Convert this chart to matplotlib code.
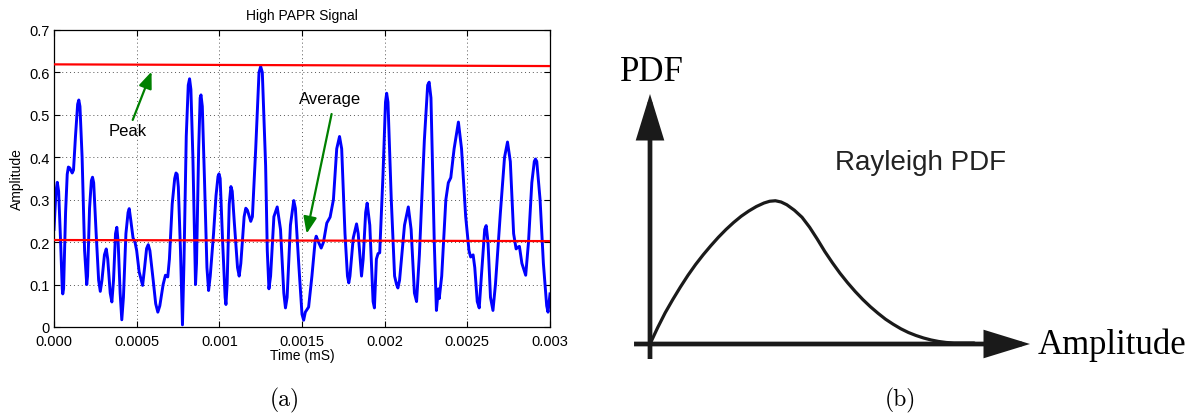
import matplotlib.pyplot as plt
from matplotlib.patches import FancyArrowPatch

# ── (a) time-domain OFDM envelope ─────────────────────────────────────────────
t_ms = [
    0.0, 0.000012, 0.00002, 0.000028, 0.00004, 0.00005, 0.000053, 0.000058,
    0.00007, 0.00008, 0.000087, 0.000095, 0.00011, 0.000118, 0.00013, 0.000143,
    0.00015, 0.000157, 0.00017, 0.000185, 0.000198, 0.000203, 0.000215, 0.000226,
    0.000233, 0.00024, 0.000255, 0.00027, 0.00028, 0.00029, 0.000305, 0.000316,
    0.000325, 0.00034, 0.00035, 0.00036, 0.000372, 0.00038, 0.000388, 0.0004,
    0.00041, 0.00042, 0.000435, 0.000448, 0.000455, 0.000465, 0.000478, 0.00049,
    0.0005, 0.000515, 0.000536, 0.000548, 0.00056, 0.00057, 0.00058, 0.0006,
    0.000615, 0.000628, 0.00064, 0.00066, 0.000674, 0.000682, 0.000688, 0.000698,
    0.000715, 0.00073, 0.000738, 0.000745, 0.000752, 0.000765, 0.000777, 0.000786,
    0.0008, 0.000812, 0.00082, 0.000828, 0.00084, 0.000856, 0.000862, 0.000875,
    0.000884, 0.000889, 0.000897, 0.00091, 0.000925, 0.000935, 0.000945, 0.000965,
    0.00098, 0.000992, 0.000998, 0.001005, 0.00102, 0.001035, 0.00104, 0.001047,
    0.00106, 0.00107, 0.001078, 0.00109, 0.00111, 0.00112, 0.00113, 0.00115,
    0.00116, 0.00117, 0.00119, 0.0012, 0.00122, 0.00124, 0.00125, 0.00126,
    0.00128, 0.00129, 0.0013, 0.00131, 0.00133, 0.00135, 0.00137, 0.00139,
    0.0014, 0.00141, 0.00143, 0.00145, 0.00146, 0.00148, 0.0015, 0.00151,
    0.00152, 0.00154, 0.00156, 0.00158, 0.001586, 0.0016, 0.001616, 0.00163,
    0.00165, 0.00167, 0.00169, 0.00171, 0.001727, 0.00174, 0.00176, 0.001775,
    0.001783, 0.00179, 0.00181, 0.00183, 0.00184, 0.00186, 0.00187, 0.001885,
    0.001894, 0.00191, 0.00193, 0.001938, 0.00195, 0.00196, 0.00197, 0.00199,
    0.002005, 0.002012, 0.00202, 0.00204, 0.00206, 0.002072, 0.00208, 0.00209,
    0.00212, 0.002143, 0.00216, 0.00218, 0.002193, 0.00221, 0.00224, 0.00226,
    0.002269, 0.00228, 0.0023, 0.002313, 0.00232, 0.002325, 0.00233, 0.002345,
    0.00237, 0.002385, 0.0024, 0.00242, 0.002446, 0.002465, 0.00249, 0.00251,
    0.00252, 0.002535, 0.002545, 0.00256, 0.002572, 0.002585, 0.002605, 0.002614,
    0.002625, 0.00264, 0.002655, 0.00267, 0.0027, 0.002725, 0.002743, 0.00276,
    0.00278, 0.002795, 0.002805, 0.002815, 0.00283, 0.002853, 0.00287, 0.00289,
    0.002905, 0.002912, 0.00292, 0.00294, 0.00296, 0.00298, 0.002988, 0.003,
]
amplitude = [
    0.23, 0.32, 0.341, 0.32, 0.2, 0.09, 0.078, 0.09,
    0.27, 0.36, 0.377, 0.375, 0.363, 0.37, 0.45, 0.525,
    0.535, 0.52, 0.4, 0.18, 0.10, 0.12, 0.28, 0.345,
    0.353, 0.34, 0.22, 0.11, 0.084, 0.11, 0.17, 0.184,
    0.16, 0.08, 0.059, 0.11, 0.22, 0.235, 0.2, 0.08,
    0.017, 0.07, 0.22, 0.27, 0.279, 0.25, 0.21, 0.20,
    0.18, 0.13, 0.098, 0.14, 0.185, 0.194, 0.18, 0.11,
    0.055, 0.035, 0.05, 0.1, 0.122, 0.12, 0.118, 0.16,
    0.29, 0.35, 0.363, 0.36, 0.33, 0.18, 0.005, 0.15,
    0.45, 0.57, 0.585, 0.56, 0.4, 0.10, 0.15, 0.42,
    0.54, 0.547, 0.52, 0.35, 0.14, 0.086, 0.12, 0.22,
    0.31, 0.355, 0.361, 0.35, 0.2, 0.07, 0.053, 0.1,
    0.29, 0.331, 0.32, 0.25, 0.14, 0.12, 0.15, 0.26,
    0.28, 0.275, 0.249, 0.26, 0.42, 0.6, 0.614, 0.6,
    0.38, 0.18, 0.09, 0.12, 0.26, 0.283, 0.23, 0.08,
    0.045, 0.07, 0.24, 0.298, 0.28, 0.15, 0.03, 0.016,
    0.035, 0.047, 0.12, 0.205, 0.214, 0.2, 0.186, 0.2,
    0.245, 0.259, 0.3, 0.42, 0.449, 0.42, 0.22, 0.12,
    0.104, 0.12, 0.21, 0.243, 0.22, 0.12, 0.16, 0.27,
    0.292, 0.24, 0.06, 0.045, 0.16, 0.173, 0.175, 0.36,
    0.53, 0.551, 0.53, 0.3, 0.12, 0.10, 0.092, 0.11,
    0.24, 0.283, 0.23, 0.08, 0.06, 0.17, 0.44, 0.57,
    0.577, 0.54, 0.2, 0.039, 0.07, 0.09, 0.067, 0.12,
    0.3, 0.34, 0.352, 0.42, 0.483, 0.42, 0.26, 0.18,
    0.165, 0.17, 0.14, 0.06, 0.045, 0.12, 0.23, 0.239,
    0.2, 0.07, 0.039, 0.1, 0.27, 0.4, 0.436, 0.39,
    0.22, 0.184, 0.188, 0.19, 0.15, 0.122, 0.2, 0.34,
    0.39, 0.396, 0.39, 0.3, 0.15, 0.05, 0.035, 0.078,
]

level_t = [0.0, 0.003]
peak_level = [0.619, 0.615]
avg_level = [0.205, 0.2025]

x_ticks = [0.0, 0.0005, 0.001, 0.0015, 0.002, 0.0025, 0.003]
x_tick_labels = ["0.000", "0.0005", "0.001", "0.0015", "0.002", "0.0025", "0.003"]
y_ticks = [0.0, 0.1, 0.2, 0.3, 0.4, 0.5, 0.6, 0.7]
y_tick_labels = ["0", "0.1", "0.2", "0.3", "0.4", "0.5", "0.6", "0.7"]

# ── (b) sketch of the Rayleigh envelope density ──────────────────────────────
rayleigh_u = [0.0, 0.02, 0.04, 0.06, 0.08, 0.10, 0.12, 0.14, 0.16, 0.18,
              0.20, 0.22, 0.24, 0.26, 0.28, 0.30, 0.315, 0.33, 0.345, 0.36,
              0.38, 0.40, 0.42, 0.44, 0.46, 0.48, 0.50, 0.52, 0.54, 0.56,
              0.58, 0.60, 0.62, 0.64, 0.66, 0.68, 0.70, 0.72, 0.74, 0.76,
              0.78, 0.80, 0.853]
rayleigh_v = [0.0, 0.065, 0.125, 0.178, 0.228, 0.275, 0.318, 0.357, 0.393, 0.427,
              0.458, 0.486, 0.511, 0.532, 0.550, 0.564, 0.571, 0.573, 0.568, 0.557,
              0.535, 0.507, 0.467, 0.42, 0.37, 0.325, 0.283, 0.245, 0.210, 0.178,
              0.149, 0.123, 0.099, 0.079, 0.061, 0.046, 0.034, 0.024, 0.016, 0.010,
              0.006, 0.004, 0.004]

SANS = "Liberation Sans"
SERIF = "Liberation Serif"
GREEN = "#008000"
INK = "#1a1a1a"

W, H = 1198, 414
fig = plt.figure(figsize=(W / 100, H / 100), dpi=100)

ax = fig.add_axes([54 / W, 1 - 328 / H, 496 / W, 297 / H])
ax.plot(level_t, peak_level, color="#ff0000", lw=1.6, zorder=3)
ax.plot(level_t, avg_level, color="#ff0000", lw=1.6, zorder=3)
ax.plot(t_ms, amplitude, color="#0000ff", lw=2.1, solid_joinstyle="round", zorder=2)

ax.set_xlim(0, 0.003)
ax.set_ylim(0, 0.7)
ax.set_xticks(x_ticks)
ax.set_xticklabels(x_tick_labels, fontfamily=SANS, fontsize=10.5)
ax.set_yticks(y_ticks)
ax.set_yticklabels(y_tick_labels, fontfamily=SANS, fontsize=10.5)
ax.tick_params(direction="in", top=True, right=True, length=4, width=0.8, pad=3)
ax.tick_params(axis="x", pad=5)
ax.grid(True, linestyle=(0, (1, 3)), color="#555555", lw=0.7)
for sp in ax.spines.values():
    sp.set_linewidth(0.9)
ax.set_title("High PAPR Signal", fontfamily=SANS, fontsize=10, pad=8)
ax.set_xlabel("Time (mS)", fontfamily=SANS, fontsize=10, labelpad=0)
ax.set_ylabel("Amplitude", fontfamily=SANS, fontsize=10, labelpad=4)

arrow_kw = dict(arrowstyle="-|>,head_length=1.0,head_width=0.4",
                color=GREEN, lw=1.6, mutation_scale=10, shrinkA=0, shrinkB=0)
ax.annotate("", xy=(0.00059, 0.602), xytext=(0.000476, 0.488), arrowprops=arrow_kw)
ax.text(0.000447, 0.462, "Peak", ha="center", va="center",
        fontfamily=SANS, fontsize=12)
ax.annotate("", xy=(0.001528, 0.22), xytext=(0.001679, 0.502), arrowprops=arrow_kw)
ax.text(0.001669, 0.538, "Average", ha="center", va="center",
        fontfamily=SANS, fontsize=12)

# right panel: data units with origin at the axis corner, 1.0 at each arrow tip
x0_px, x1_px, y0_px, y1_px = 600, 1198, 40, 414
ox, oy, sx, sy = 650, 345, 380, 250
bx = fig.add_axes([x0_px / W, 1 - y1_px / H, (x1_px - x0_px) / W, (y1_px - y0_px) / H])
bx.set_xlim((x0_px - ox) / sx, (x1_px - ox) / sx)
bx.set_ylim((oy - y1_px) / sy, (oy - y0_px) / sy)
bx.axis("off")

head = "-|>,head_length=2.6,head_width=0.8"
for start, end in [((0.0, -0.06), (0.0, 1.0)), ((-0.042, 0.0), (1.0, 0.0))]:
    bx.add_patch(FancyArrowPatch(start, end, arrowstyle=head, mutation_scale=10,
                                 color=INK, lw=3.4, shrinkA=0, shrinkB=0,
                                 joinstyle="miter", capstyle="butt"))
bx.plot(rayleigh_u, rayleigh_v, color=INK, lw=2.3, solid_capstyle="round",
        solid_joinstyle="round")
bx.text(-0.079, 1.09, "PDF", ha="left", va="center", fontfamily=SERIF, fontsize=25)
bx.text(1.021, 0.0, "Amplitude", ha="left", va="center", fontfamily=SERIF, fontsize=25)
bx.text(0.711, 0.728, "Rayleigh PDF", ha="center", va="center",
        fontfamily=SANS, fontsize=20, color="#222222")

fig.text(285 / W, 1 - 400 / H, "(a)", ha="center", va="center",
         fontfamily="cmr10", fontsize=17)
fig.text(900 / W, 1 - 400 / H, "(b)", ha="center", va="center",
         fontfamily="cmr10", fontsize=17)

fig.savefig("out.png", dpi=100)
